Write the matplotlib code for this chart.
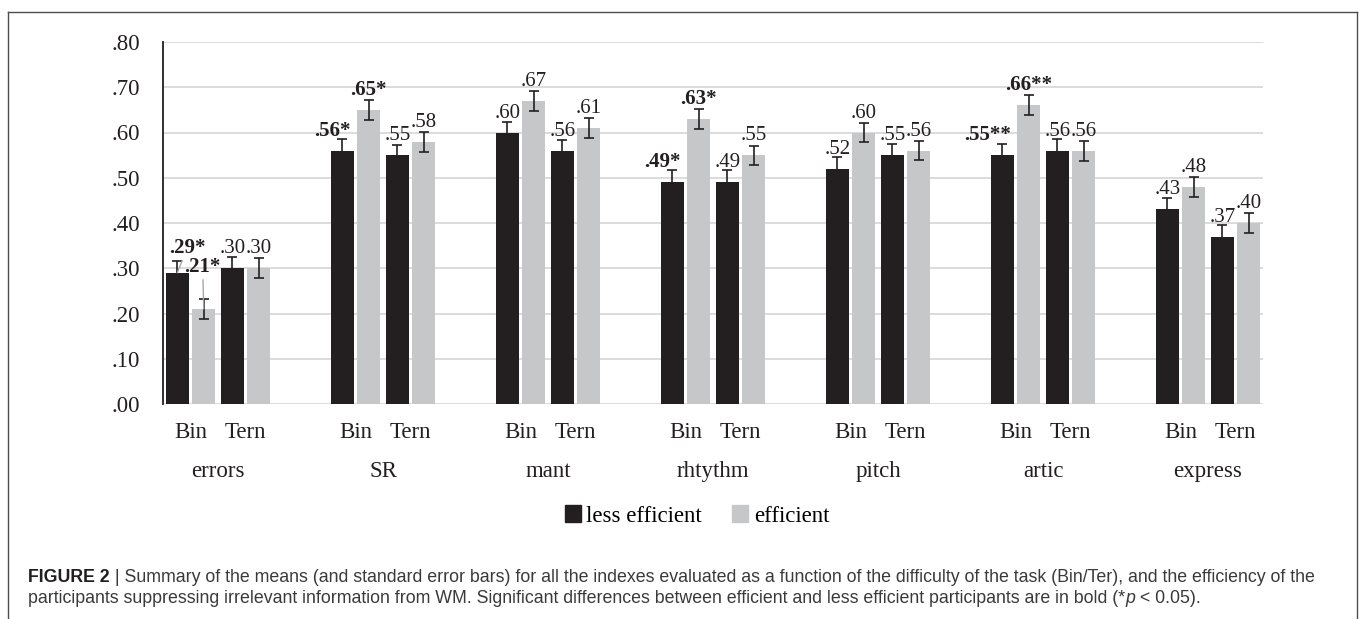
import numpy as np
import matplotlib
matplotlib.use('Agg')
import matplotlib.pyplot as plt
from matplotlib.lines import Line2D
from matplotlib.patches import Patch
from matplotlib.transforms import IdentityTransform

# data
groups = ['errors', 'SR', 'mant', 'rhtythm', 'pitch', 'artic', 'express']
levels = ['Bin', 'Tern']
less_eff = [0.29, 0.30, 0.56, 0.55, 0.60, 0.56, 0.49, 0.49, 0.52, 0.55, 0.55, 0.56, 0.43, 0.37]
eff = [0.21, 0.30, 0.65, 0.58, 0.67, 0.61, 0.63, 0.55, 0.60, 0.56, 0.66, 0.56, 0.48, 0.40]
less_err = [0.025, 0.025, 0.025, 0.023, 0.024, 0.023, 0.027, 0.027, 0.025, 0.025, 0.025, 0.025, 0.025, 0.025]
eff_err = [0.023, 0.022, 0.022, 0.022, 0.022, 0.022, 0.022, 0.021, 0.022, 0.021, 0.022, 0.022, 0.022, 0.022]
less_lab = ['.29*', '.30', '.56*', '.55', '.60', '.56', '.49*', '.49', '.52', '.55', '.55**', '.56', '.43', '.37']
eff_lab = ['.21*', '.30', '.65*', '.58', '.67', '.61', '.63*', '.55', '.60', '.56', '.66**', '.56', '.48', '.40']
yticks = [0.0, 0.1, 0.2, 0.3, 0.4, 0.5, 0.6, 0.7, 0.8]

DARK = '#231f20'
GREY = '#c6c7c9'
GRID = '#d9d9d9'
SERIF = 'Liberation Serif'
SANS = 'Liberation Sans'

W, H = 1360, 619
fig = plt.figure(figsize=(W / 100, H / 100), dpi=100)
ax = fig.add_axes([163 / W, 1 - 404 / H, 1100 / W, 362 / H])

# one slot per category, with an empty slot between groups
xcat = []
for g in range(len(groups)):
    for k in range(len(levels)):
        xcat.append(g * 3 + k)
xcat = np.array(xcat, dtype=float)
x_less = xcat + 0.26
x_eff = xcat + 0.74
bw = 0.42

ax.bar(x_less, less_eff, width=bw, color=DARK, zorder=2, label='less efficient')
ax.bar(x_eff, eff, width=bw, color=GREY, zorder=2, label='efficient')
ax.errorbar(x_less, less_eff, yerr=less_err, fmt='none', ecolor=DARK,
            elinewidth=1.2, capsize=3.3, capthick=1.2, zorder=3)
ax.errorbar(x_eff, eff, yerr=eff_err, fmt='none', ecolor=DARK,
            elinewidth=1.2, capsize=3.3, capthick=1.2, zorder=3)

ax.set_xlim(0, 20)
ax.set_ylim(0, 0.8)
ax.set_yticks(yticks)
ax.set_yticklabels([('%.2f' % v)[1:] for v in yticks], fontfamily=SERIF,
                   fontsize=16.5, color=DARK)
ax.tick_params(axis='y', length=0, pad=16.5)
ax.set_xticks([])
ax.yaxis.grid(True, color=GRID, lw=1.3, zorder=0)
ax.set_axisbelow(True)
for s in ['top', 'right', 'bottom']:
    ax.spines[s].set_visible(False)
ax.spines['left'].set_color(DARK)
ax.spines['left'].set_linewidth(1.3)

# data labels (offsets in pixels, a few were moved by hand in the original)
px = 0.72
shift = {('less', 0): (10, 20), ('eff', 0): (-1, 37),
         ('less', 2): (-10, 15), ('less', 6): (-10, 15), ('less', 10): (-15, 15)}
for name, xs, vals, labs in [('less', x_less, less_eff, less_lab),
                             ('eff', x_eff, eff, eff_lab)]:
    for i in range(len(vals)):
        dx, dy = shift.get((name, i), (0, 15))
        bold = labs[i].endswith('*')
        kw = {}
        if i == 0:
            kw['arrowprops'] = dict(arrowstyle='-', color='#a6a6a6', lw=1,
                                    shrinkA=0, shrinkB=0)
        ax.annotate(labs[i], xy=(xs[i], vals[i]), xytext=(dx * px, dy * px),
                    textcoords='offset points', ha='center', va='baseline',
                    fontfamily=SERIF, fontsize=15, color=DARK,
                    fontweight='bold' if bold else 'normal', zorder=4, **kw)

# two-level category axis
tr = ax.get_xaxis_transform()
for g, name in enumerate(groups):
    for k, lev in enumerate(levels):
        ax.text(g * 3 + k + 0.5, -34 / 362, lev, transform=tr, ha='center',
                va='baseline', fontfamily=SERIF, fontsize=16.5, color=DARK)
    ax.text(g * 3 + 1.0, -73 / 362, name, transform=tr, ha='center',
            va='baseline', fontfamily=SERIF, fontsize=16.5, color=DARK)

handles = [Patch(color=DARK, label='less efficient'), Patch(color=GREY, label='efficient')]
fig.legend(handles=handles, loc='center', bbox_to_anchor=(697 / W, 1 - 516 / H),
           ncol=2, frameon=False, handlelength=0.7, handleheight=0.7,
           handletextpad=0.25, columnspacing=1.3,
           prop={'family': SERIF, 'size': 16.5})

# outer frame
for xs_, ys_ in [([8 / W, 8 / W], [0, 1 - 12 / H]),
                 ([8 / W, 1357 / W], [1 - 12 / H, 1 - 12 / H]),
                 ([1357 / W, 1357 / W], [0, 1 - 12 / H])]:
    fig.add_artist(Line2D(xs_, ys_, color='#4d4d4d', lw=1))

# caption
renderer = fig.canvas.get_renderer()
CAPCOL = '#3a3a3a'
cap1 = [('FIGURE 2', 'bold', 'normal', DARK),
        (' | Summary of the means (and standard error bars) for all the indexes evaluated as a '
         'function of the difficulty of the task (Bin/Ter), and the efficiency of the',
         'normal', 'normal', CAPCOL)]
cap2 = [('participants suppressing irrelevant information from WM. Significant differences '
         'between efficient and less efficient participants are in bold (*', 'normal', 'normal', CAPCOL),
        ('p', 'normal', 'italic', CAPCOL),
        (' < 0.05).', 'normal', 'normal', CAPCOL)]


def width(s, size, weight='normal', style='normal'):
    t = fig.text(0, 0, s.replace(' ', '\u00a0'), fontsize=size, family=SANS,
                 fontweight=weight, fontstyle=style, transform=IdentityTransform())
    w = t.get_window_extent(renderer).width
    t.remove()
    return w


def draw_line(pieces, x, y, size):
    for s, weight, style, col in pieces:
        fig.text(x, y, s.replace(' ', '\u00a0'), fontsize=size, family=SANS,
                 fontweight=weight, fontstyle=style, color=col,
                 transform=IdentityTransform(), va='baseline')
        x += width(s, size, weight, style)


x0, x1 = 28, 1322
size = 10.0
total = sum(width(s, size, w, st) for s, w, st, c in cap1)
size = size * (x1 - x0) / total
draw_line(cap1, x0, H - 582, size)
draw_line(cap2, x0, H - 603, size)

fig.savefig('out.png', dpi=100)
